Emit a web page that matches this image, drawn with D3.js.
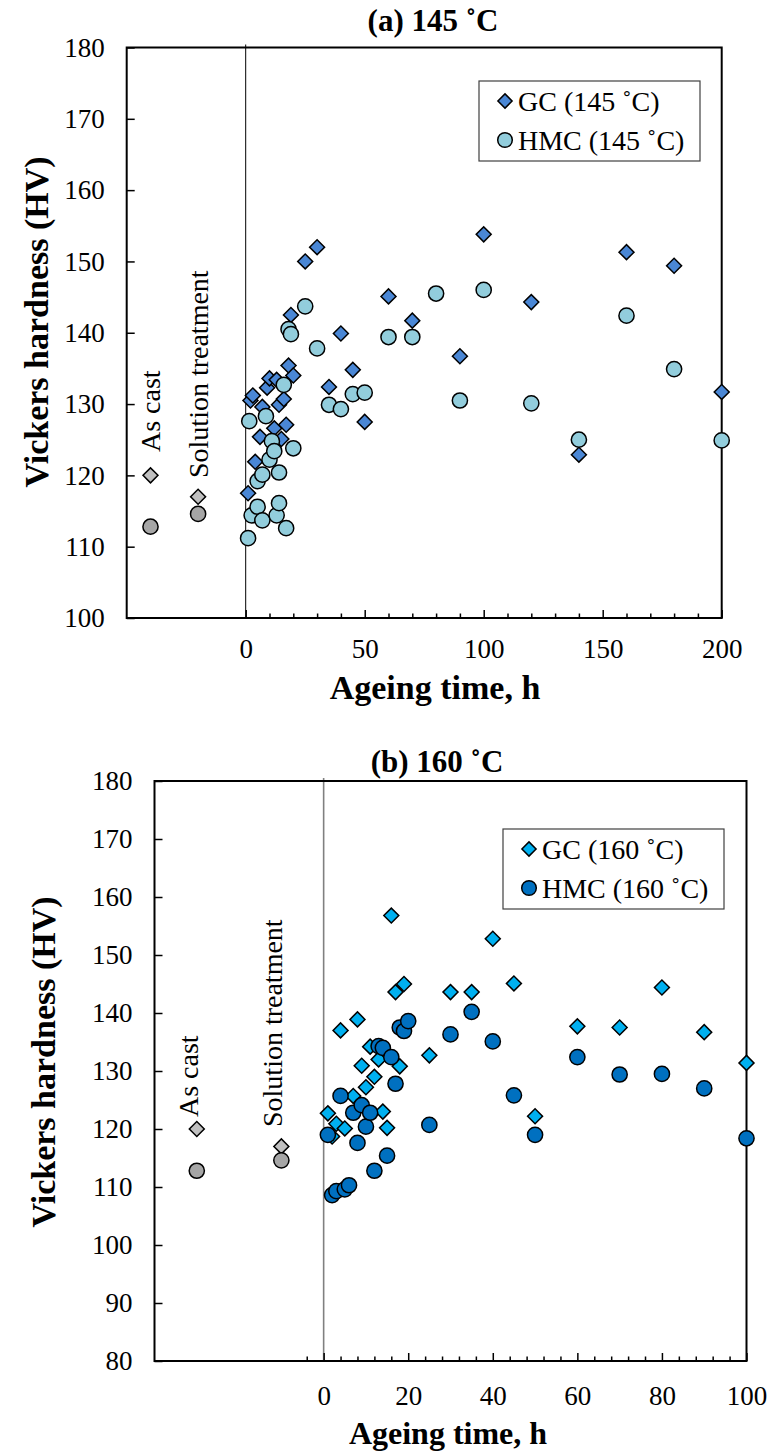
<!DOCTYPE html>
<html>
<head>
<meta charset="utf-8">
<script src="https://cdn.jsdelivr.net/npm/d3@7"></script>
<style>
  body { margin: 0; background: #fff; }
  text { font-family: "Liberation Serif", "Times New Roman", serif; fill: #000; }
</style>
</head>
<body>
<svg id="chart" width="769" height="1452"></svg>
<script>
// ---- data: [ageing time (h), Vickers hardness (HV)] ----
const gc145 = [
  [1, 117.5], [2, 130.5], [3, 131.2], [4, 121.9], [6, 125.4], [7, 129.6], [9, 132.3],
  [10, 133.6], [12, 126.6], [13, 133.4], [14, 129.9], [15, 125.1], [16, 130.7], [17, 127.1],
  [18, 135.4], [19, 142.5], [20, 134.0], [25, 150.0], [30, 152.0], [35, 132.4], [40, 139.9],
  [45, 134.8], [50, 127.5], [60, 145.1], [70, 141.7], [90, 136.7], [100, 153.8], [120, 144.3],
  [140, 122.9], [160, 151.3], [180, 149.4], [200, 131.7]
];
const hmc145 = [
  [1, 111.2], [1.5, 127.6], [2.5, 114.4], [5, 115.6], [5, 119.2], [7, 113.7], [7, 120.1],
  [8.5, 128.3], [10, 122.2], [11, 124.8], [12, 123.4], [13, 114.4], [14, 116.1], [14, 120.4],
  [16, 132.7], [17, 112.6], [18, 140.5], [19, 139.8], [20, 123.8], [25, 143.7], [30, 137.8],
  [35, 129.9], [40, 129.3], [45, 131.4], [50, 131.6], [60, 139.4], [70, 139.4], [80, 145.5],
  [90, 130.5], [100, 146.0], [120, 130.1], [140, 125.0], [160, 142.4], [180, 134.9], [200, 124.9]
];
const gc160 = [
  [1, 122.7], [2, 118.7], [3, 120.9], [4, 137.0], [5, 120.1], [7, 125.7], [8, 138.9],
  [9, 130.9], [10, 127.2], [11, 134.2], [12, 129.0], [13, 132.0], [14, 123.0], [15, 120.2],
  [16, 156.8], [17, 143.6], [18, 130.8], [19, 145.0], [25, 132.7], [30, 143.6], [35, 143.6],
  [40, 152.8], [45, 145.1], [50, 122.2], [60, 137.7], [70, 137.5], [80, 144.4], [90, 136.7],
  [100, 131.4]
];
const hmc160 = [
  [1, 119.0], [2, 108.6], [3, 109.3], [4, 125.7], [5, 109.6], [6, 110.3], [7, 122.8],
  [8, 117.6], [9, 124.1], [10, 120.4], [11, 122.8], [12, 112.8], [13, 134.3], [14, 134.0],
  [15, 115.4], [16, 132.4], [17, 127.8], [18, 137.5], [19, 136.9], [20, 138.6], [25, 120.7],
  [30, 136.3], [35, 140.2], [40, 135.1], [45, 125.8], [50, 119.0], [60, 132.4], [70, 129.4],
  [80, 129.5], [90, 127.0], [100, 118.4]
];
// as cast / solution treated reference values (plotted left of t = 0)
const refGC = [120.0, 117.0];   // diamonds: as cast, solution treatment
const refHMC = [112.8, 114.6];  // circles: as cast, solution treatment
const refLabels = ["As cast", "Solution treatment"];

const yTicksA = d3.range(100, 181, 10);
const yTicksB = d3.range(80, 181, 10);
const xTicksA = [0, 50, 100, 150, 200];
const xTicksB = [0, 20, 40, 60, 80, 100];

const svg = d3.select("#chart");

function drawPanel(p) {
  const x = d3.scaleLinear().domain(p.xDomain).range([p.left, p.right]);
  const y = d3.scaleLinear().domain(p.yDomain).range([p.bottom, p.top]);
  const g = svg.append("g");

  // t = 0 separator
  g.append("line")
    .attr("x1", x(0)).attr("x2", x(0))
    .attr("y1", p.top - 3).attr("y2", p.bottom)
    .attr("stroke", p.zeroColor).attr("stroke-width", p.zeroWidth);

  // minor x ticks
  g.append("g")
    .attr("transform", `translate(0,${p.bottom})`)
    .call(d3.axisBottom(x).tickValues(p.minorX).tickSize(-4.5).tickFormat(""))
    .call(a => a.select(".domain").remove())
    .call(a => a.selectAll("line").attr("stroke-width", 1.5));

  // major x ticks + labels
  g.append("g")
    .attr("transform", `translate(0,${p.bottom})`)
    .call(d3.axisBottom(x).tickValues(p.xTicks).tickSize(-8).tickPadding(p.xPad))
    .call(a => a.select(".domain").remove())
    .call(a => a.selectAll("line").attr("stroke-width", 1.5))
    .call(a => a.selectAll("text").attr("font-size", 27));

  // y ticks + labels
  g.append("g")
    .attr("transform", `translate(${p.left},0)`)
    .call(d3.axisLeft(y).tickValues(p.yTicks).tickSize(-8).tickPadding(22))
    .call(a => a.select(".domain").remove())
    .call(a => a.selectAll("line").attr("stroke-width", 1.5))
    .call(a => a.selectAll("text").attr("font-size", 27));

  // frame
  g.append("rect")
    .attr("x", p.left).attr("y", p.top)
    .attr("width", p.right - p.left).attr("height", p.bottom - p.top)
    .attr("fill", "none").attr("stroke", "#000").attr("stroke-width", 2);

  const diamond = d3.symbol().type(d3.symbolSquare).size(112);

  function diamonds(data, fill) {
    g.append("g").selectAll("path")
      .data(data)
      .join("path")
      .attr("d", diamond)
      .attr("transform", d => `translate(${x(d[0])},${y(d[1])}) rotate(45)`)
      .attr("fill", fill).attr("stroke", "#000").attr("stroke-width", 1.5);
  }
  function circles(data, fill) {
    g.append("g").selectAll("circle")
      .data(data)
      .join("circle")
      .attr("cx", d => x(d[0])).attr("cy", d => y(d[1]))
      .attr("r", 7.6)
      .attr("fill", fill).attr("stroke", "#000").attr("stroke-width", 1.5);
  }

  // reference points
  const refGc = p.refX.map((t, i) => [t, refGC[i]]);
  const refHmc = p.refX.map((t, i) => [t, refHMC[i]]);
  diamonds(refGc, "#c0c0c0");
  circles(refHmc, "#a6a6a6");

  diamonds(p.gc, p.gcColor);
  circles(p.hmc, p.hmcColor);

  // reference labels (rotated)
  refLabels.forEach((lab, i) => {
    g.append("text")
      .attr("transform", `translate(${p.labelX[i]},${p.labelY[i]}) rotate(-90)`)
      .attr("font-size", 28)
      .text(lab);
  });

  // legend
  const lg = g.append("g").attr("transform", `translate(${p.legend[0]},${p.legend[1]})`);
  lg.append("rect").attr("width", 221).attr("height", 80)
    .attr("fill", "#fff").attr("stroke", "#404040").attr("stroke-width", 1.2);
  lg.append("path").attr("d", d3.symbol().type(d3.symbolSquare).size(100))
    .attr("transform", "translate(26,20) rotate(45)")
    .attr("fill", p.gcColor).attr("stroke", "#000").attr("stroke-width", 1.5);
  lg.append("circle").attr("cx", 26).attr("cy", 59).attr("r", 7.3)
    .attr("fill", p.hmcColor).attr("stroke", "#000").attr("stroke-width", 1.5);
  lg.append("text").attr("x", 39).attr("y", 20).attr("dy", "0.35em")
    .attr("font-size", 28).text(p.legendText[0]);
  lg.append("text").attr("x", 39).attr("y", 59).attr("dy", "0.35em")
    .attr("font-size", 28).text(p.legendText[1]);

  // titles
  g.append("text")
    .attr("x", p.titleX).attr("y", p.titleY)
    .attr("text-anchor", "middle").attr("font-weight", "bold").attr("font-size", 31)
    .text(p.title);
  g.append("text")
    .attr("x", p.xTitleX).attr("y", p.xTitleY)
    .attr("text-anchor", "middle").attr("font-weight", "bold").attr("font-size", p.xTitleSize)
    .text("Ageing time, h");
  g.append("text")
    .attr("transform", `translate(${p.yTitleX},${p.yTitleY}) rotate(-90)`)
    .attr("text-anchor", "middle").attr("dy", "0.35em")
    .attr("font-weight", "bold").attr("font-size", 34)
    .text("Vickers hardness (HV)");
}

drawPanel({
  xDomain: [-50, 200], yDomain: [100, 180],
  left: 126.7, right: 721.7, top: 47.5, bottom: 618,
  xTicks: xTicksA, yTicks: yTicksA, minorX: d3.range(10, 200, 10).filter(v => v % 50),
  xPad: 21,
  zeroColor: "#000", zeroWidth: 1,
  gc: gc145, hmc: hmc145, gcColor: "#4a87d5", hmcColor: "#92cddc",
  refX: [-40, -20],
  labelX: [160, 208], labelY: [452, 478],
  legend: [479, 81], legendText: ["GC (145 ˚C)", "HMC (145 ˚C)"],
  title: "(a) 145 ˚C", titleX: 433, titleY: 31,
  xTitleX: 435, xTitleY: 699, xTitleSize: 34,
  yTitleX: 36, yTitleY: 322
});

drawPanel({
  xDomain: [-40, 100], yDomain: [80, 180],
  left: 154.5, right: 746.5, top: 781, bottom: 1361,
  xTicks: xTicksB, yTicks: yTicksB, minorX: d3.range(-4, 100, 4).filter(v => v % 20),
  xPad: 25,
  zeroColor: "#808080", zeroWidth: 1.6,
  gc: gc160, hmc: hmc160, gcColor: "#00b0f0", hmcColor: "#0070c0",
  refX: [-30, -10],
  labelX: [198, 282], labelY: [1117, 1127],
  legend: [503, 829], legendText: ["GC (160 ˚C)", "HMC (160 ˚C)"],
  title: "(b) 160 ˚C", titleX: 437, titleY: 772,
  xTitleX: 448, xTitleY: 1444, xTitleSize: 32,
  yTitleX: 43, yTitleY: 1062
});
</script>
</body>
</html>
